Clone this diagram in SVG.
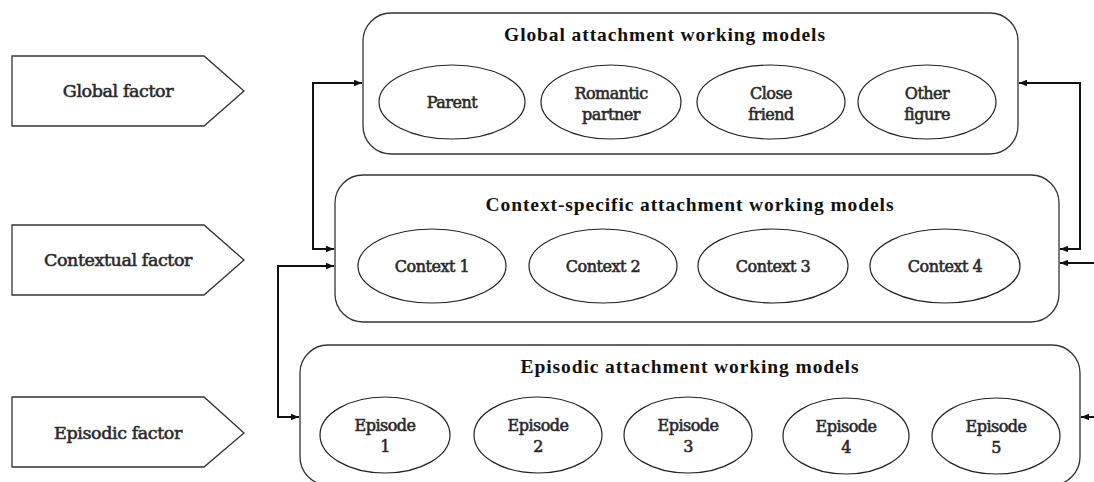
<svg xmlns="http://www.w3.org/2000/svg" width="1094" height="482" viewBox="0 0 1094 482">
<defs>
<marker id="ah" viewBox="0 0 10 10" refX="10" refY="5" markerWidth="4" markerHeight="4" orient="auto-start-reverse" markerUnits="strokeWidth">
<path d="M0,1 L10,5 L0,9 z" fill="#111"/>
</marker>
<style>
.shape{fill:#fff;stroke:#333;stroke-width:1.3}
.ell{fill:#fff;stroke:#222;stroke-width:1.2}
.conn{fill:none;stroke:#111;stroke-width:2}
.title{font-family:"Liberation Serif",serif;font-weight:bold;font-size:19.5px;fill:#111;text-anchor:middle;letter-spacing:0.9px}
.lab{font-family:"DejaVu Serif",serif;font-size:16px;fill:#222;text-anchor:middle;stroke:#333;stroke-width:0.6px;letter-spacing:-0.5px}
.fac{font-family:"DejaVu Serif",serif;font-size:17.5px;fill:#222;text-anchor:middle;stroke:#333;stroke-width:0.6px;letter-spacing:-0.4px}
</style>
</defs>
<rect width="1094" height="482" fill="#fff"/>

<g id="global-factor">
<polygon class="shape" points="12,56 204,56 244,91 204,126 12,126"/>
<text class="fac" x="118" y="97">Global factor</text>
</g>
<g id="contextual-factor">
<polygon class="shape" points="12,225 204,225 244,260 204,295 12,295"/>
<text class="fac" x="118" y="266">Contextual factor</text>
</g>
<g id="episodic-factor">
<polygon class="shape" points="12,397 204,397 244,433 204,467 12,467"/>
<text class="fac" x="118" y="439">Episodic factor</text>
</g>

<g id="global-models">
<rect class="shape" x="363" y="13" width="655" height="141" rx="28" ry="28"/>
<text class="title" x="665" y="41">Global attachment working models</text>
<g id="parent"><ellipse class="ell" cx="452" cy="102" rx="73" ry="37"/><text class="lab" x="452" y="108">Parent</text></g>
<g id="romantic"><ellipse class="ell" cx="611" cy="102" rx="70" ry="37"/><text class="lab" x="611" y="99">Romantic</text><text class="lab" x="611" y="120">partner</text></g>
<g id="close-friend"><ellipse class="ell" cx="771" cy="102" rx="74" ry="37"/><text class="lab" x="771" y="99">Close</text><text class="lab" x="771" y="120">friend</text></g>
<g id="other-figure"><ellipse class="ell" cx="927" cy="102" rx="69" ry="37"/><text class="lab" x="927" y="99">Other</text><text class="lab" x="927" y="120">figure</text></g>
</g>

<g id="context-models">
<rect class="shape" x="335" y="175" width="724" height="147" rx="28" ry="28"/>
<text class="title" x="690" y="211">Context-specific attachment working models</text>
<g id="context1"><ellipse class="ell" cx="432" cy="266" rx="74" ry="37"/><text class="lab" x="432" y="272">Context 1</text></g>
<g id="context2"><ellipse class="ell" cx="603" cy="266" rx="74" ry="37"/><text class="lab" x="603" y="272">Context 2</text></g>
<g id="context3"><ellipse class="ell" cx="773" cy="266" rx="75" ry="37"/><text class="lab" x="773" y="272">Context 3</text></g>
<g id="context4"><ellipse class="ell" cx="945" cy="266" rx="75" ry="37"/><text class="lab" x="945" y="272">Context 4</text></g>
</g>

<g id="episodic-models">
<rect class="shape" x="300" y="345" width="780" height="140" rx="28" ry="28"/>
<text class="title" x="690" y="373">Episodic attachment working models</text>
<g id="episode1"><ellipse class="ell" cx="385" cy="435" rx="65" ry="38"/><text class="lab" x="385" y="431">Episode</text><text class="lab" x="385" y="452">1</text></g>
<g id="episode2"><ellipse class="ell" cx="538" cy="435" rx="64" ry="38"/><text class="lab" x="538" y="431">Episode</text><text class="lab" x="538" y="452">2</text></g>
<g id="episode3"><ellipse class="ell" cx="688" cy="435" rx="64" ry="38"/><text class="lab" x="688" y="431">Episode</text><text class="lab" x="688" y="452">3</text></g>
<g id="episode4"><ellipse class="ell" cx="846" cy="436" rx="63" ry="38"/><text class="lab" x="846" y="432">Episode</text><text class="lab" x="846" y="453">4</text></g>
<g id="episode5"><ellipse class="ell" cx="996" cy="436" rx="64" ry="38"/><text class="lab" x="996" y="432">Episode</text><text class="lab" x="996" y="453">5</text></g>
</g>

<g id="connectors">
<polyline class="conn" points="362,83 313,83 313,249 334,249" marker-start="url(#ah)" marker-end="url(#ah)"/>
<polyline class="conn" points="334,266 278,266 278,417 299,417" marker-start="url(#ah)" marker-end="url(#ah)"/>
<polyline class="conn" points="1019,83 1080,83 1080,249 1060,249" marker-start="url(#ah)" marker-end="url(#ah)"/>
<line class="conn" x1="1094" y1="263" x2="1060" y2="263" marker-end="url(#ah)"/>
<line class="conn" x1="1094" y1="417" x2="1081" y2="417" marker-end="url(#ah)"/>
</g>
</svg>
